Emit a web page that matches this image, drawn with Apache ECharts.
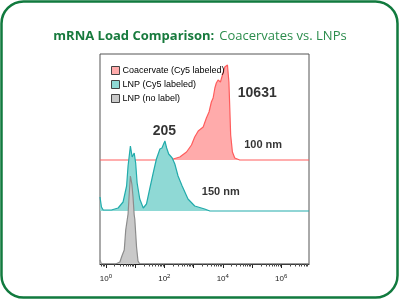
<!DOCTYPE html>
<html>
<head>
<meta charset="utf-8">
<script src="https://cdn.jsdelivr.net/npm/echarts@6/dist/echarts.min.js"></script>
<style>
  html, body { margin: 0; padding: 0; background: #fff; }
  #chart { width: 400px; height: 300px; }
</style>
</head>
<body>
<div id="chart"></div>
<script>
// Fluorescence intensity in decades (log10), histogram counts (arbitrary units)
const seriesNames = ['Coacervate (Cy5 labeled)', 'LNP (Cy5 labeled)', 'LNP (no label)'];

const coacervateLog = [-0.2, 2.19, 2.53, 2.76, 2.93, 3.04, 3.16, 3.33, 3.44, 3.53, 3.61, 3.67, 3.73, 3.78, 3.84, 3.92, 3.99, 4.07, 4.13, 4.16, 4.21, 4.24, 4.27, 4.33, 4.41, 4.58, 6.95];
const coacervateCounts = [0, 0, 3, 8, 15, 23, 29, 33, 42, 48, 58, 62, 72, 77, 80, 78, 85, 93, 92, 95, 78, 52, 25, 8, 2, 0, 0];

const lnpLog = [-0.2, -0.15, -0.09, 0.19, 0.42, 0.59, 0.71, 0.76, 0.84, 0.9, 0.97, 1.02, 1.07, 1.16, 1.28, 1.39, 1.5, 1.62, 1.73, 1.85, 1.92, 2.02, 2.08, 2.15, 2.27, 2.36, 2.47, 2.61, 2.81, 3.04, 3.38, 3.56, 6.95];
const lnpCounts = [14, 4, 1, 1, 3, 9, 25, 45, 65, 54, 58, 48, 28, 12, 3, 7, 22, 38, 52, 62, 63, 70, 63, 57, 53, 47, 35, 25, 12, 5, 2, 0, 0];

const unlabeledLog = [-0.2, -0.15, 0.34, 0.48, 0.55, 0.63, 0.68, 0.76, 0.8, 0.84, 0.89, 0.93, 0.97, 0.99, 1.02, 1.05, 1.1, 1.16, 6.95];
const unlabeledCounts = [4, 0, 0, 2, 8, 14, 34, 50, 70, 88, 80, 67, 49, 45, 44, 17, 3, 0, 0];

const majorTicks = [0, 1, 2, 3, 4, 5, 6];
const tickLabels = [0, 2, 4, 6];

const annotations = [
  { text: '10631', x: 5.18, y: 171, size: 14 },
  { text: '100 nm', x: 5.38, y: 119, size: 11 },
  { text: '205', x: 2.0, y: 133, size: 14 },
  { text: '150 nm', x: 3.93, y: 72, size: 11 }
];

// vertical offsets of the stacked histograms
const offsets = [104, 53, 0];
const lineColors = ['#ff5c5c', '#22abab', '#8c8c8c'];
const fillColors = ['#ffabab', '#8fd9d5', '#c9c9c9'];

function buildMinorTicks() {
  const ticks = [];
  for (let d = -1; d <= 6; d++) {
    for (let k = 2; k <= 9; k++) {
      const v = d + Math.log10(k);
      if (v > -0.2 && v < 6.95) ticks.push(+v.toFixed(4));
    }
  }
  return ticks;
}

function toPairs(xs, ys, offset) {
  return xs.map((x, i) => [x, ys[i] + offset]);
}

const chart = echarts.init(document.getElementById('chart'), null, { renderer: 'canvas' });

const histData = [
  [coacervateLog, coacervateCounts],
  [lnpLog, lnpCounts],
  [unlabeledLog, unlabeledCounts]
];

const series = histData.map((d, i) => ({
  name: seriesNames[i],
  type: 'line',
  data: toPairs(d[0], d[1], offsets[i]),
  symbol: 'none',
  z: 2 + i,
  lineStyle: { color: lineColors[i], width: 1.2 },
  itemStyle: { color: lineColors[i] },
  areaStyle: { color: fillColors[i], opacity: 1, origin: offsets[i] },
  animation: false
}));

// text annotations placed in data coordinates
series.push({
  type: 'scatter',
  name: 'labels',
  data: annotations.map(a => ({ value: [a.x, a.y], label: { formatter: a.text, fontSize: a.size } })),
  symbolSize: 1,
  itemStyle: { color: 'transparent' },
  z: 10,
  label: {
    show: true,
    position: 'inside',
    fontFamily: 'Arial',
    fontWeight: 'bold',
    color: '#000'
  },
  silent: true,
  animation: false
});

chart.setOption({
  animation: false,
  backgroundColor: '#fff',
  title: {
    text: '{b|mRNA Load Comparison:} {n|Coacervates vs. LNPs}',
    left: 'center',
    top: 22,
    textStyle: {
      rich: {
        b: { fontFamily: 'Open Sans', fontWeight: 'bold', fontSize: 13, color: '#177a3d' },
        n: { fontFamily: 'Open Sans', fontWeight: 'normal', fontSize: 13, color: '#2b8c4c' }
      }
    }
  },
  graphic: [{
    type: 'rect',
    shape: { x: 1.5, y: 1.5, width: 396, height: 296, r: 22 },
    style: { fill: 'none', stroke: '#117a3e', lineWidth: 2.5 },
    silent: true
  }],
  legend: {
    orient: 'vertical',
    left: 106,
    top: 61,
    itemWidth: 8,
    itemHeight: 8,
    itemGap: 5,
    textStyle: { fontFamily: 'Arial', fontSize: 9, color: '#000', padding: [0, 0, 0, -2] },
    data: seriesNames.map((n, i) => ({
      name: n,
      icon: 'rect',
      itemStyle: { color: fillColors[i], borderColor: '#444', borderWidth: 1 }
    }))
  },
  grid: {
    left: 100, right: 91, top: 54, bottom: 36,
    show: true, borderColor: '#555', borderWidth: 1
  },
  xAxis: [{
    type: 'value',
    min: -0.2,
    max: 6.95,
    splitLine: { show: false },
    axisLine: { show: true, lineStyle: { color: '#222', width: 1 } },
    axisTick: { show: true, customValues: majorTicks, length: 4, lineStyle: { color: '#222' } },
    axisLabel: {
      customValues: tickLabels,
      margin: 9,
      formatter: v => '{b|10}{s|' + v + '}',
      rich: {
        b: { fontFamily: 'Arial', fontSize: 8, color: '#222' },
        s: { fontFamily: 'Arial', fontSize: 6, color: '#222', verticalAlign: 'top', padding: [0, 0, 5, 0] }
      }
    }
  }, {
    type: 'value',
    position: 'bottom',
    min: -0.2,
    max: 6.95,
    splitLine: { show: false },
    axisLine: { show: false },
    axisTick: { show: true, customValues: buildMinorTicks(), length: 2.5, lineStyle: { color: '#444' } },
    axisLabel: { show: false }
  }],
  yAxis: {
    type: 'value',
    min: 0,
    max: 210,
    splitLine: { show: false },
    axisLine: { show: false },
    axisTick: { show: false },
    axisLabel: { show: false }
  },
  series: series
});

window.addEventListener('resize', () => chart.resize());
</script>
</body>
</html>
